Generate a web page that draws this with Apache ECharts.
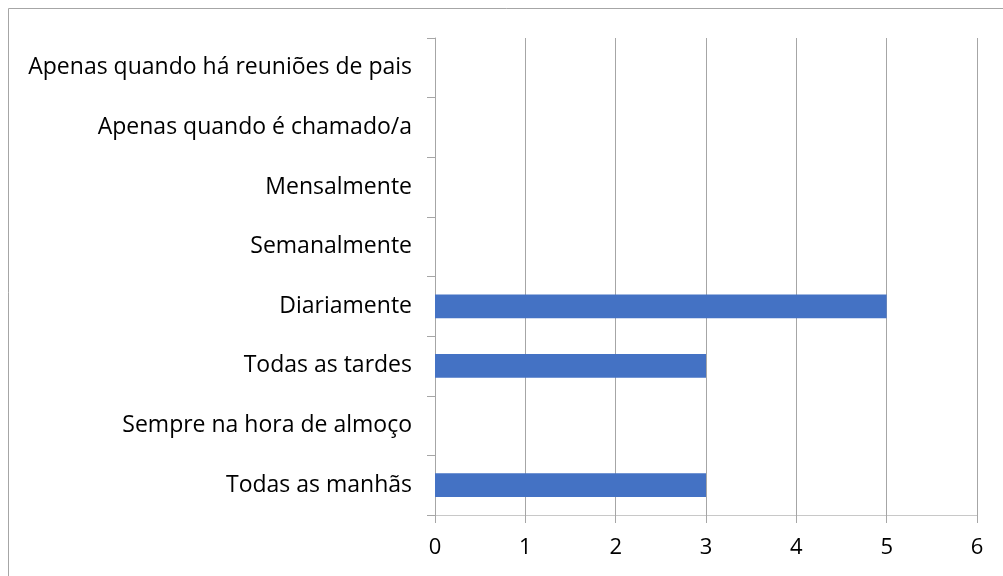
<!DOCTYPE html>
<html>
<head>
<meta charset="utf-8">
<script src="https://cdn.jsdelivr.net/npm/echarts@6/dist/echarts.min.js"></script>
<style>
html,body{margin:0;padding:0;background:#fff;}
#c{width:1003px;height:576px;}
</style>
</head>
<body>
<div id="c"></div>
<script>
const categories = ["Todas as manhãs","Sempre na hora de almoço","Todas as tardes","Diariamente","Semanalmente","Mensalmente","Apenas quando é chamado/a","Apenas quando há reuniões de pais"];
const values = [3, 0, 3, 5, 0, 0, 0, 0];
const xTicks = [0, 6, 1];

const chart = echarts.init(document.getElementById('c'), null, {renderer:'canvas'});
const font = '"Open Sans", sans-serif';
chart.setOption({
  animation: false,
  backgroundColor: '#fff',
  graphic: [{
    type: 'rect', shape: {x: 8.5, y: 8.5, width: 1100, height: 700},
    style: {fill: 'none', stroke: '#a6a6a6', lineWidth: 1}, silent: true, z: -1
  }],
  grid: {left: 435, right: 26, top: 38, bottom: 61, containLabel: false},
  xAxis: {
    type: 'value', min: xTicks[0], max: xTicks[1], interval: xTicks[2],
    axisLine: {show: true, lineStyle: {color: '#c8c8c8', width: 1}},
    axisTick: {show: true, length: 8, lineStyle: {color: '#a6a6a6'}},
    splitLine: {show: true, lineStyle: {color: '#a6a6a6', width: 1}},
    axisLabel: {color: '#000', fontFamily: font, fontSize: 22, margin: 22}
  },
  yAxis: {
    type: 'category', data: categories,
    axisLine: {show: true, lineStyle: {color: '#a6a6a6', width: 1}},
    axisTick: {show: true, length: 8, lineStyle: {color: '#a6a6a6'}},
    axisLabel: {color: '#000', fontFamily: font, fontSize: 23, margin: 23}
  },
  series: [{
    type: 'bar', data: values, barWidth: '40%',
    itemStyle: {color: '#4472C4'}
  }]
});
</script>
</body>
</html>
